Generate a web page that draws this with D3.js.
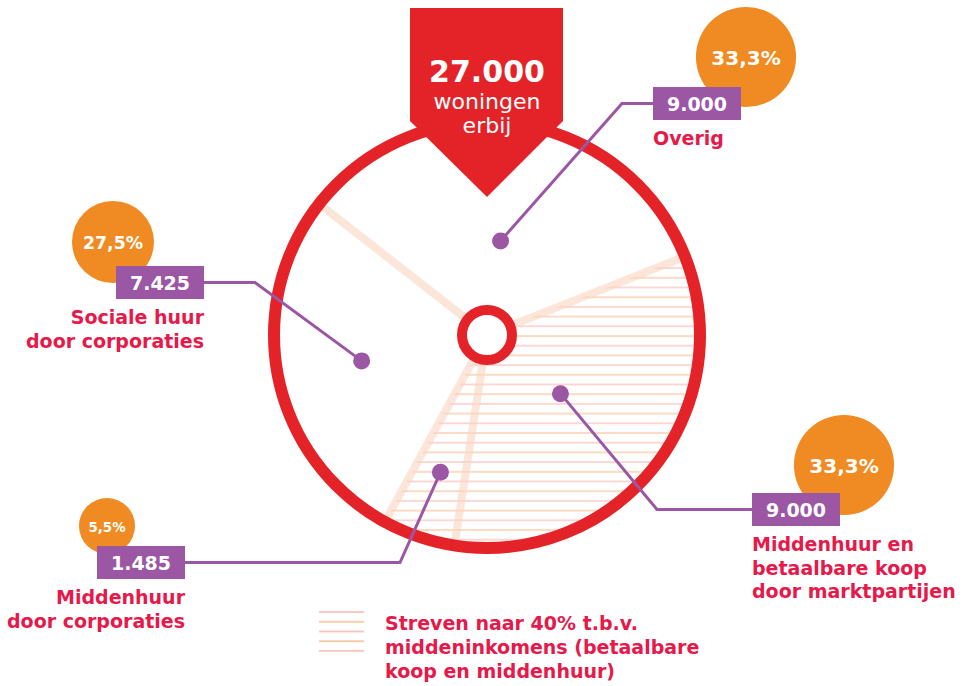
<!DOCTYPE html>
<html>
<head>
<meta charset="utf-8">
<script src="https://cdn.jsdelivr.net/npm/d3@7"></script>
<style>
  body { margin: 0; background: #fff; }
  text { font-family: "DejaVu Sans", sans-serif; }
</style>
</head>
<body>
<div id="chart"></div>
<script>
// Data
var categories      =   [ ["Overig"],
                          ["Middenhuur en", "betaalbare koop", "door marktpartijen"],
                          ["Middenhuur", "door corporaties"],
                          ["Sociale huur", "door corporaties"] ];
var values          =   [ 9000, 9000, 1485, 7425 ];
var middle_income   =   [ false, true, true, false ];
var total           =   27000;
var title_lines     =   [ "woningen", "erbij" ];
var legend_lines    =   [ "Streven naar 40% t.b.v.", "middeninkomens (betaalbare", "koop en middenhuur)" ];

var chart_width     =   963;
var chart_height    =   686;
var cx              =   487;
var cy              =   335;
var ring_radius     =   213;
var red             =   "#e42328";
var label_red       =   "#e5194a";
var purple          =   "#9b57a4";
var orange          =   "#ef8b22";

// label placement per category (box top-left, elbow x, dot radius, bubble centre)
var layout = [
    { box: [653, 87],  side: "right", elbow: 622, dot_r: 95,  bubble: [746, 57] },
    { box: [752, 493], side: "right", elbow: 657, dot_r: 94,  bubble: [844, 465] },
    { box: [97, 546],  side: "left",  elbow: 400, dot_r: 145, bubble: [107, 526] },
    { box: [116, 266], side: "left",  elbow: 255, dot_r: 128, bubble: [113, 242] }
];
var box_w = 88, box_h = 33;

var nl = d3.formatLocale({ decimal: ",", thousands: ".", grouping: [3], currency: ["€", ""] });
var fmt_count = nl.format(",");
var fmt_pct = nl.format(".1%");

var bubble_r = d3.scaleLinear()
    .domain([ 0.055, 0.275, 0.333 ])
    .range([ 28, 41, 50 ]);

// Pie Layout
var pie = d3.pie()
    .sort(null)
    .startAngle(-52 * Math.PI / 180)
    .endAngle(308 * Math.PI / 180);
var slices = pie(values);

var fill_arc = d3.arc()
    .innerRadius(28)
    .outerRadius(ring_radius - 6);

// Create SVG
var svg = d3.select("#chart")
    .append("svg")
    .attr("width", chart_width)
    .attr("height", chart_height);

// hatch pattern
var pattern = svg.append("defs")
    .append("pattern")
    .attr("id", "hatch")
    .attr("patternUnits", "userSpaceOnUse")
    .attr("width", 10)
    .attr("height", 19.4);
pattern.append("line")
    .attr("x1", 0).attr("x2", 10).attr("y1", 1).attr("y2", 1)
    .attr("stroke", "#f8b07a").attr("stroke-width", 1.3);
pattern.append("line")
    .attr("x1", 0).attr("x2", 10).attr("y1", 10.7).attr("y2", 10.7)
    .attr("stroke", "#f5aaa2").attr("stroke-width", 1.3);

var g = svg.append("g")
    .attr("transform", "translate(" + cx + "," + cy + ")");

// Hatched slices
g.selectAll("path.hatch")
    .data(slices.filter(function(d, i) { return middle_income[i]; }))
    .enter()
    .append("path")
    .attr("class", "hatch")
    .attr("d", fill_arc)
    .attr("fill", "url(#hatch)")
    .attr("opacity", 0.7);

// Divider lines
g.selectAll("line.divider")
    .data(slices)
    .enter()
    .append("line")
    .attr("class", "divider")
    .attr("x1", 0).attr("y1", 0)
    .attr("x2", function(d) { return Math.sin(d.startAngle) * (ring_radius - 6); })
    .attr("y2", function(d) { return -Math.cos(d.startAngle) * (ring_radius - 6); })
    .attr("stroke", "#fbd6c2")
    .attr("stroke-width", 8)
    .attr("opacity", 0.6);

// Ring and hub
g.append("circle")
    .attr("r", ring_radius)
    .attr("fill", "none")
    .attr("stroke", red)
    .attr("stroke-width", 12);
g.append("circle")
    .attr("r", 25)
    .attr("fill", "#fff")
    .attr("stroke", red)
    .attr("stroke-width", 10);

// Banner
svg.append("polygon")
    .attr("points", [[410, 8], [563, 8], [563, 121], [487, 197], [410, 121]].join(" "))
    .attr("fill", red);
svg.append("text")
    .attr("x", 487).attr("y", 82)
    .attr("text-anchor", "middle")
    .attr("fill", "#fff")
    .attr("font-size", 30)
    .attr("font-weight", "bold")
    .text(fmt_count(total));
svg.selectAll("text.title")
    .data(title_lines)
    .enter()
    .append("text")
    .attr("class", "title")
    .attr("x", 487)
    .attr("y", function(d, i) { return 109 + i * 24; })
    .attr("text-anchor", "middle")
    .attr("fill", "#fff")
    .attr("font-size", 22)
    .text(function(d) { return d; });

// Labels
var labels = svg.selectAll("g.label")
    .data(slices)
    .enter()
    .append("g")
    .attr("class", "label");

function dot_pos(d, i) {
    var a = (d.startAngle + d.endAngle) / 2;
    return [ cx + Math.sin(a) * layout[i].dot_r, cy - Math.cos(a) * layout[i].dot_r ];
}

labels.append("path")
    .attr("fill", "none")
    .attr("stroke", purple)
    .attr("stroke-width", 3)
    .attr("d", function(d, i) {
        var L = layout[i];
        var by = L.box[1] + box_h / 2;
        var bx = L.side === "right" ? L.box[0] : L.box[0] + box_w;
        return d3.line()([ dot_pos(d, i), [L.elbow, by], [bx, by] ]);
    });

labels.append("circle")
    .attr("cx", function(d, i) { return dot_pos(d, i)[0]; })
    .attr("cy", function(d, i) { return dot_pos(d, i)[1]; })
    .attr("r", 8.5)
    .attr("fill", purple);

labels.append("circle")
    .attr("cx", function(d, i) { return layout[i].bubble[0]; })
    .attr("cy", function(d, i) { return layout[i].bubble[1]; })
    .attr("r", function(d) { return bubble_r(d.value / total); })
    .attr("fill", orange);

labels.append("text")
    .attr("x", function(d, i) { return layout[i].bubble[0]; })
    .attr("y", function(d, i) {
        var fs = 0.3 * bubble_r(d.value / total) + 5;
        return layout[i].bubble[1] + fs * 0.42;
    })
    .attr("text-anchor", "middle")
    .attr("fill", "#fff")
    .attr("font-weight", "bold")
    .attr("font-size", function(d) { return 0.3 * bubble_r(d.value / total) + 5; })
    .text(function(d) { return fmt_pct(d.value / total); });

labels.append("rect")
    .attr("x", function(d, i) { return layout[i].box[0]; })
    .attr("y", function(d, i) { return layout[i].box[1]; })
    .attr("width", box_w)
    .attr("height", box_h)
    .attr("fill", purple);

labels.append("text")
    .attr("x", function(d, i) { return layout[i].box[0] + box_w / 2; })
    .attr("y", function(d, i) { return layout[i].box[1] + 24; })
    .attr("text-anchor", "middle")
    .attr("fill", "#fff")
    .attr("font-size", 19)
    .attr("font-weight", "bold")
    .text(function(d) { return fmt_count(d.value); });

labels.append("text")
    .attr("text-anchor", function(d, i) { return layout[i].side === "right" ? "start" : "end"; })
    .attr("fill", label_red)
    .attr("font-size", 19)
    .attr("font-weight", "bold")
    .each(function(d, i) {
        var L = layout[i];
        var x = L.side === "right" ? L.box[0] : L.box[0] + box_w;
        d3.select(this).selectAll("tspan")
            .data(categories[i])
            .enter()
            .append("tspan")
            .attr("x", x)
            .attr("y", function(t, j) { return L.box[1] + box_h + 25 + j * 23.5; })
            .text(function(t) { return t; });
    });

// Legend
svg.append("rect")
    .attr("x", 319).attr("y", 610)
    .attr("width", 45).attr("height", 47)
    .attr("fill", "url(#hatch)");
svg.selectAll("text.legend")
    .data(legend_lines)
    .enter()
    .append("text")
    .attr("class", "legend")
    .attr("x", 385)
    .attr("y", function(d, i) { return 630 + i * 24; })
    .attr("fill", label_red)
    .attr("font-size", 19)
    .attr("font-weight", "bold")
    .text(function(d) { return d; });
</script>
</body>
</html>
